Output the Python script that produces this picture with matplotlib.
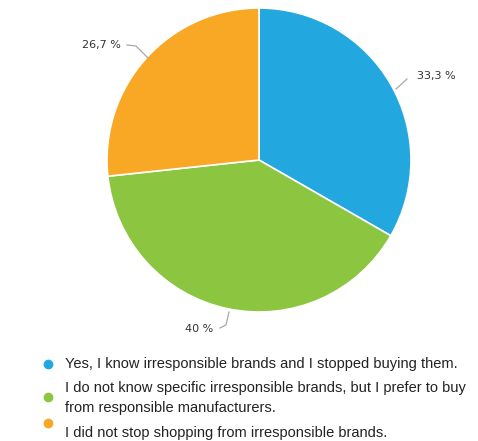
import matplotlib.pyplot as plt

answers = [
    "Yes, I know irresponsible brands and I stopped buying them.",
    "I do not know specific irresponsible brands, but I prefer to buy\nfrom responsible manufacturers.",
    "I did not stop shopping from irresponsible brands.",
]
shares = [33.3, 40.0, 26.7]
pct_labels = ["33,3 %", "40 %", "26,7 %"]
colors = ["#22a7df", "#8cc540", "#f8a825"]

W, H = 478, 441
fig = plt.figure(figsize=(W / 100, H / 100), dpi=100)

# pie axes: center (259,160), radius 152 px
cx, cy, r = 259, 160, 152
ax = fig.add_axes([(cx - r) / W, (H - cy - r) / H, 2 * r / W, 2 * r / H])
wedges, _ = ax.pie(shares, colors=colors, startangle=90, counterclock=False,
                   wedgeprops=dict(edgecolor="white", linewidth=1.2))
ax.set_aspect("equal")
ax.set_xlim(-1, 1)
ax.set_ylim(-1, 1)

# percentage labels with leader lines (data coords in the pie axes)
def px(x, y):
    return ((x - cx) / r, (cy - y) / r)

leaders = [
    [(396, 89), (407, 79)],
    [(229, 312), (226, 325), (220, 328)],
    [(148, 58), (136, 46), (127, 45)],
]
text_pos = [(417, 76, "left"), (213, 329, "right"), (121, 45, "right")]
for pts, (tx, ty, ha), lab in zip(leaders, text_pos, pct_labels):
    xs, ys = zip(*[px(*p) for p in pts])
    ax.plot(xs, ys, color="#a8a8a8", lw=0.9, clip_on=False)
    ax.text(*px(tx, ty), lab, ha=ha, va="center", fontsize=8,
            color="#333333", family="DejaVu Sans")

# legend
leg = fig.add_axes([0, 0, 1, 1])
leg.set_xlim(0, W)
leg.set_ylim(H, 0)
leg.axis("off")
marker_y = [364, 397, 423]
text_y = [364, 398, 433]
for c, my, ty, a in zip(colors, marker_y, text_y, answers):
    leg.plot([48], [my], "o", color=c, markersize=6)
    leg.text(65, ty, a, ha="left", va="center", fontsize=10.5,
             family="Liberation Sans", color="#222222", linespacing=1.55)

fig.savefig("out.png", dpi=100)
